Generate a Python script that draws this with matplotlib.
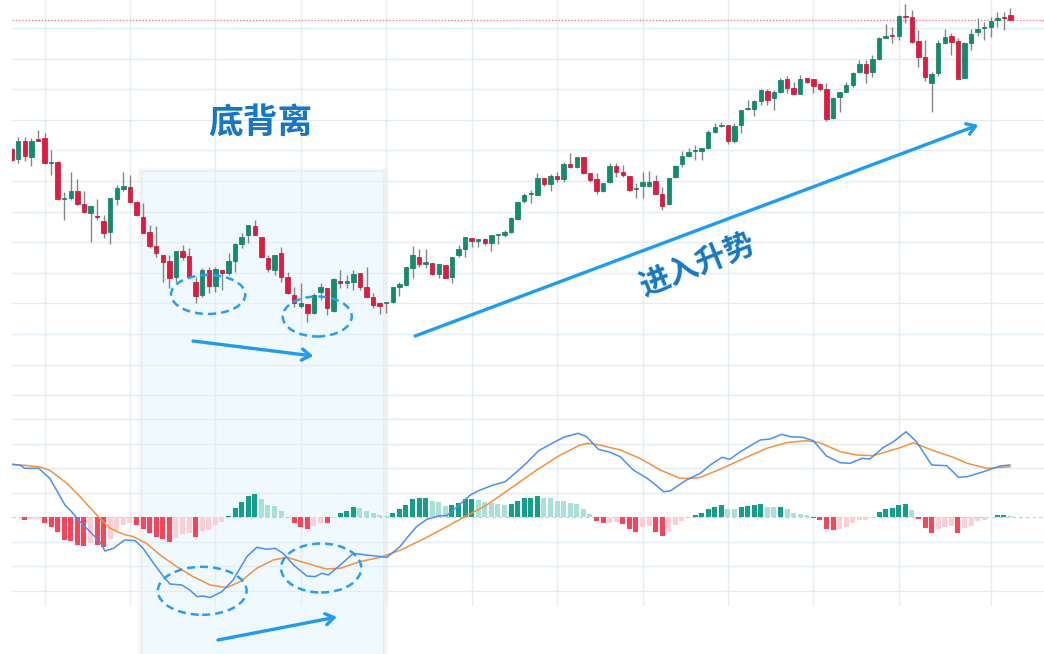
import numpy as np
import matplotlib.pyplot as plt
from matplotlib.patches import Ellipse, Rectangle
from matplotlib.transforms import blended_transform_factory

plt.rcParams['font.family'] = ['Noto Sans CJK SC', 'DejaVu Sans']

# ---- candle data (one entry per bar) ----
opens = [301, 291, 309, 293, 311, 312, 287, 288, 251, 252,
         259, 246, 237, 234, 229, 218, 251, 261, 263, 248,
         233, 218, 204, 195, 189, 173, 199, 194, 168, 155,
         180, 164, 180, 177, 189, 206, 215, 224, 213, 192,
         180, 197, 173, 155, 144, 146, 137, 158, 162, 139,
         169, 167, 168, 177, 163, 153, 147, 147, 148, 163,
         165, 182, 193, 186, 187, 176, 185, 173, 195, 201,
         212, 209, 211, 207, 215, 215, 218, 231, 249, 256,
         255, 272, 266, 274, 271, 286, 283, 293, 277, 271,
         259, 268, 284, 278, 274, 261, 264, 264, 269, 256,
         246, 273, 286, 294, 299, 299, 302, 318, 324, 325,
         309, 325, 341, 341, 349, 359, 352, 358, 371, 362,
         356, 372, 371, 366, 361, 332, 353, 358, 365, 378,
         386, 378, 391, 412, 415, 414, 434, 433, 409, 393,
         367, 377, 407, 414, 409, 372, 407, 418, 422, 423,
         430, 433, 435]
closes = [290, 309, 294, 309, 309, 287, 288, 251, 252, 259,
          246, 238, 244, 233, 217, 252, 262, 264, 248, 235,
          217, 204, 197, 188, 172, 199, 193, 173, 154, 180,
          164, 181, 177, 189, 206, 213, 225, 215, 193, 181,
          195, 173, 157, 147, 147, 137, 155, 163, 142, 171,
          167, 169, 176, 163, 153, 145, 144, 148, 163, 166,
          183, 195, 186, 188, 176, 186, 172, 193, 201, 213,
          209, 211, 207, 215, 216, 218, 232, 248, 255, 257,
          272, 266, 274, 271, 286, 283, 293, 277, 270, 259,
          267, 284, 278, 275, 260, 262, 268, 268, 256, 244,
          272, 284, 294, 298, 300, 302, 318, 323, 325, 309,
          324, 340, 342, 349, 360, 350, 358, 370, 362, 356,
          371, 368, 364, 361, 331, 352, 358, 365, 377, 386,
          377, 391, 412, 414, 414, 434, 433, 408, 393, 373,
          376, 407, 413, 408, 371, 407, 416, 421, 423, 429,
          432, 432, 430]
highs = [302, 313, 313, 312, 320, 317, 300, 289, 258, 278,
         271, 259, 244, 251, 235, 252, 265, 278, 275, 249,
         247, 225, 224, 195, 195, 199, 205, 202, 173, 182,
         183, 183, 180, 197, 207, 217, 225, 230, 213, 195,
         195, 203, 178, 163, 167, 146, 157, 167, 162, 172,
         180, 175, 180, 177, 183, 157, 148, 148, 163, 168,
         183, 204, 201, 201, 187, 186, 185, 193, 205, 213,
         212, 211, 212, 215, 216, 220, 233, 248, 257, 260,
         277, 272, 276, 278, 288, 297, 293, 293, 277, 277,
         267, 287, 287, 285, 274, 267, 278, 279, 275, 263,
         272, 285, 299, 302, 305, 302, 320, 327, 328, 325,
         327, 340, 350, 350, 361, 361, 360, 372, 374, 368,
         375, 372, 371, 367, 367, 353, 358, 368, 378, 390,
         390, 395, 413, 426, 423, 435, 446, 440, 420, 410,
         378, 410, 421, 417, 412, 408, 421, 432, 428, 433,
         438, 438, 442]
lows = [289, 287, 289, 284, 309, 286, 275, 250, 230, 250,
        245, 237, 208, 230, 212, 206, 245, 259, 248, 234,
        217, 202, 193, 168, 162, 168, 190, 172, 147, 153,
        157, 158, 160, 175, 178, 202, 207, 215, 193, 178,
        175, 168, 156, 143, 142, 128, 136, 150, 135, 138,
        162, 162, 160, 160, 153, 142, 136, 137, 147, 154,
        164, 172, 183, 182, 175, 172, 172, 167, 193, 193,
        203, 203, 205, 199, 206, 213, 217, 230, 247, 247,
        255, 264, 259, 268, 268, 282, 282, 276, 268, 256,
        258, 267, 273, 273, 259, 252, 252, 263, 256, 240,
        245, 272, 283, 293, 290, 290, 301, 317, 323, 306,
        307, 317, 340, 334, 345, 345, 340, 357, 357, 356,
        356, 367, 357, 359, 329, 331, 338, 358, 363, 377,
        367, 373, 390, 412, 407, 410, 427, 407, 383, 369,
        338, 374, 406, 395, 371, 372, 400, 414, 410, 413,
        423, 420, 430]

# ---- MACD panel ----
hist = [0.3, 0.3, -2.7, -1.7, -1.5, -6, -9.3, -15, -23, -24,
        -27.7, -28.7, -26, -27.5, -29.5, -21.7, -12.7, -7.7, -6, -7.7,
        -12, -15.3, -19.3, -22, -25, -21, -17, -16, -20, -14,
        -12.7, -8, -4.3, 1, 9, 15.7, 21.3, 23.3, 18, 12.3,
        11.3, 6.7, 0.7, -6, -9.3, -12, -8.7, -5.3, -6, -0.3,
        4, 6.7, 10, 9, 6.7, 4, 2.3, 1.3, 4.7, 8,
        12.3, 18, 19, 19.3, 16, 15.7, 11.3, 12.3, 14.7, 18,
        18.3, 17.3, 15.7, 14.7, 13, 12, 13.3, 16.7, 19, 19.3,
        21.3, 19.7, 19, 16.3, 16, 14, 13.3, 8.7, 3, -3.3,
        -6, -5.5, -4.5, -6.7, -12, -14.3, -9.3, -8.5, -14.3, -18.7,
        -14.3, -7.7, -3.7, 0.7, 2.3, 4.7, 8, 10.7, 12, 8,
        7.8, 10.7, 11.3, 12, 13.3, 10.7, 10, 10.7, 8, 4,
        3.7, 2.7, -0.3, -2.7, -12, -12.7, -12, -10, -6, -2.7,
        -2.5, -0.5, 5.3, 8.7, 9, 12.3, 13, 7.3, -1.3, -11,
        -16, -12, -9.3, -8.7, -16, -11, -8.7, -3.7, -2.7, 0.3,
        2, 2.3, 1.3]

macd_x = [0, 1.3, 2.0, 4.1, 5.8, 7.1, 8.1, 9.1, 10.4, 11.9,
          13.4, 14.2, 15.5, 17.2, 18.8, 20.0, 21.6, 23.1, 24.1, 25.9,
          27.1, 28.2, 29.2, 30.2, 32.0, 33.7, 35.8, 37.3, 38.8, 40.1,
          41.3, 42.9, 44.9, 46.2, 47.2, 48.2, 50.0, 52.0, 54.0, 57.1,
          59.1, 60.1, 61.6, 63.2, 65.2, 66.2, 67.7, 69.8, 71.3, 73.3,
          75.1, 76.9, 78.4, 80.2, 82.4, 84.0, 86.2, 87.5, 89.3, 91.1,
          92.6, 94.6, 96.7, 98.2, 99.2, 100.2, 102.7, 104.8, 106.3, 108.1,
          109.3, 110.9, 113.9, 115.4, 117.2, 118.5, 120.4, 122.0, 124.0, 126.1,
          127.6, 129.4, 130.6, 132.6, 134.2, 136.1, 137.7, 140.0, 142.3, 144.1,
          145.4, 147.9, 150.4, 151.9]
macd_y = [53, 52, 49, 49, 39, 24, 12.3, 5.7, -4.3, -14.3,
          -24.3, -33.7, -31, -22.7, -23.3, -31, -46, -59.3, -66.7, -67.7,
          -72.7, -79.3, -78.7, -80.3, -74.3, -62.7, -39.3, -30, -32, -31,
          -36, -47.7, -58.7, -59.3, -56, -57.7, -47.7, -36, -37.7, -40,
          -29.3, -21, -9.4, -2, 1.6, 1.6, 10, 22.3, 27.3, 32.3,
          35.6, 45.6, 54.6, 66.6, 74.6, 80, 84, 80.6, 68, 65,
          60.6, 47.3, 39, 31.3, 25.6, 26.3, 37.3, 44, 52.3, 60,
          58, 65.6, 77.3, 78.3, 83, 80.6, 80, 76.6, 61.3, 54.6,
          54, 59, 58.3, 69.6, 75.6, 85.6, 75.6, 52.3, 51.6, 40,
          40.6, 45.6, 51.3, 52.3]

signal_x = [0, 2.0, 4.3, 5.8, 8.4, 10.4, 13.4, 15.0, 17.0, 18.5,
            20.5, 22.6, 25.1, 27.6, 30.2, 32.7, 34.8, 37.3, 39.8, 41.9,
            44.9, 47.9, 50.0, 53.0, 56.1, 59.1, 62.6, 66.2, 68.7, 72.3,
            76.3, 79.9, 83.5, 86.5, 87.8, 89.5, 92.6, 95.6, 98.7, 101.7,
            103.7, 104.8, 107.8, 110.9, 114.9, 117.9, 120.9, 123.0, 126.1, 128.6,
            131.1, 135.2, 137.2, 140.3, 143.3, 145.4, 148.4, 151.9]
signal_y = [53, 52, 50.3, 47, 34, 20.7, -1, -11, -17, -19.3,
            -26, -37.7, -49.3, -59.3, -67.7, -70.3, -64.3, -51, -42.7, -40,
            -46, -51.7, -51, -44.3, -40, -33, -22, -9.4, -0.4, 12.3,
            30.6, 47.3, 62.3, 72.3, 74, 72.3, 67.3, 59, 47.3, 39,
            39, 40, 48, 57.3, 69, 74.6, 76.6, 74.6, 65.6, 62.3,
            61.6, 69.6, 74.6, 66.6, 60, 54, 49, 50.6]

vgrid = [5, 18, 31, 44, 57, 70, 83, 96, 109, 122, 135, 149]

W, H = 1044, 654
fig = plt.figure(figsize=(W / 100, H / 100), dpi=100)
fig.patch.set_facecolor('white')


def px_rect(x0, y0, x1, y1):
    return [x0 / W, 1 - y1 / H, (x1 - x0) / W, (y1 - y0) / H]


ax = fig.add_axes(px_rect(12, 0, 1044, 410))
axm = fig.add_axes(px_rect(12, 410, 1044, 606), sharex=ax)

for a in (ax, axm):
    a.set_facecolor('none')
    for s in a.spines.values():
        s.set_visible(False)
    a.tick_params(length=0, labelleft=False, labelbottom=False)
    a.set_xticks(vgrid)
    a.grid(color='#e3edf5', lw=1.0, zorder=0)
    a.set_axisbelow(True)

ax.set_xlim(0.05, 157.1)
ax.set_ylim(40, 450)
ax.set_yticks(np.arange(422, 40, -30.6))
axm.set_ylim(-88.7, 107.3)
axm.set_yticks([-73.5, -49, -24.5, 24.5, 49, 73.5, 98])

# shaded highlight box with soft shadow
idx = np.arange(len(opens))
tr = blended_transform_factory(ax.transData, fig.transFigure)
box_x0, box_x1 = 20.0, 56.5
box_top = 1 - 172 / H
for k in range(6, 0, -1):
    d = k * 0.16
    fig.add_artist(Rectangle((box_x0 - d, 0), box_x1 - box_x0 + 2 * d, box_top + k * 0.8 / H,
                             transform=tr, facecolor='#9aa4ad', alpha=0.028, lw=0, zorder=-2))
fig.add_artist(Rectangle((box_x0, 0), box_x1 - box_x0, box_top, transform=tr,
                         facecolor='#f0f9fd', lw=0, zorder=-1))

# candles
o = np.array(opens, float)
c = np.array(closes, float)
up = c >= o
body_col = np.where(up, '#0b8f6f', '#e8173e')
edge_col = np.where(up, '#0a7a5e', '#c3102f')
ax.vlines(idx, lows, highs, color='#858585', lw=1.0, zorder=2)
ax.bar(idx, np.maximum(np.abs(c - o), 1.2), bottom=np.minimum(o, c), width=0.68,
       color=body_col, edgecolor=edge_col, lw=0.5, zorder=3)

# last price line
ax.axhline(closes[-1], color='#f06a80', lw=0.9, ls=(0, (1, 1.6)), zorder=1)

# histogram colours
h = np.array(hist)
prev = np.concatenate([[0], h[:-1]])
hcol = []
for v, p in zip(h, prev):
    if v >= 0:
        hcol.append('#12a08a' if v > p else '#a9e0d8')
    else:
        hcol.append('#ff4257' if v < p else '#ffcdd4')
axm.axhline(0, color='#c9c9c9', lw=0.8, ls=(0, (3, 3)), zorder=1)
axm.bar(idx, h, width=0.76, color=hcol, zorder=2)
axm.plot(macd_x, macd_y, color='#4d8ef5', lw=1.1, zorder=4)
axm.plot(signal_x, signal_y, color='#f6913d', lw=1.1, zorder=3)

# annotations
blue = '#1f9cf0'
ell_kw = dict(fill=False, ec='#2a9ef2', lw=1.8, ls=(0, (3.2, 2.0)), clip_on=False, zorder=6)
ax.add_patch(Ellipse((29.9, 155.5), 11.3, 39, **ell_kw))
ax.add_patch(Ellipse((46.5, 133.5), 10.5, 40, **ell_kw))
axm.add_patch(Ellipse((29.0, -73.5), 13.5, 48, **ell_kw))
axm.add_patch(Ellipse((47.1, -50.7), 12.2, 49, **ell_kw))

arrow_kw = dict(arrowstyle='->,head_length=0.6,head_width=0.4', color=blue, lw=2.4,
                shrinkA=0, shrinkB=0, clip_on=False, capstyle='round')
ax.annotate('', xy=(147.1, 325), xytext=(61.4, 114), arrowprops=arrow_kw, annotation_clip=False)
ax.annotate('', xy=(45.9, 94), xytext=(27.6, 109), arrowprops=arrow_kw, annotation_clip=False)
axm.annotate('', xy=(49.5, -99.7), xytext=(31.4, -122.7), arrowprops=arrow_kw, annotation_clip=False)

ax.text(37.8, 327, '底背离', fontsize=25, fontweight='bold', color='#1677c8',
        ha='center', va='center', zorder=7)
ax.text(104.3, 185, '进入升势', fontsize=22, fontweight='bold', color='#1677c8', ha='center',
        va='center', rotation=22, rotation_mode='anchor', zorder=7)

fig.savefig('out.png', dpi=100)
